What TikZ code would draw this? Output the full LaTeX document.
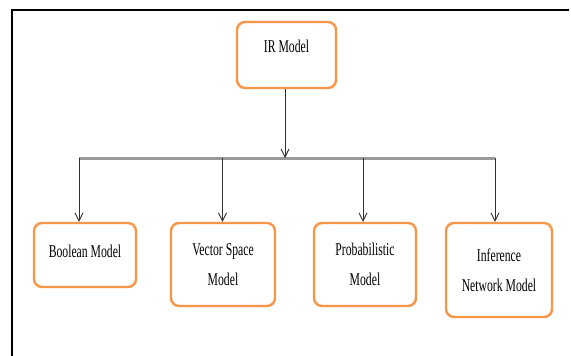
\documentclass[tikz,border=0pt]{standalone}
\usepackage{fontspec}
\setmainfont{Liberation Serif}[FakeStretch=0.65]
\usetikzlibrary{arrows.meta,shadows}
\definecolor{boxorange}{HTML}{F79646}
\definecolor{bargray}{HTML}{9A9A9A}
\definecolor{arrgray}{HTML}{303030}
\tikzset{
  modelbox/.style={draw=boxorange, line width=2.4pt, rounded corners=8pt, fill=white,
    align=center, inner sep=0pt, font=\fontsize{18}{30}\selectfont,
    drop shadow={opacity=0.12, shadow xshift=1pt, shadow yshift=-1pt}},
  arr/.style={draw=arrgray, line width=0.9pt, -{Straight Barb[length=8pt,width=8pt,line width=0.9pt]}},
  barline/.style={color=bargray, line width=3pt},
  frameline/.style={draw=black, line width=2pt}
}
\begin{document}
\begin{tikzpicture}[x=1pt,y=-1pt]
\useasboundingbox (0,0) rectangle (571,356);
\draw[frameline] (12,356) -- (12,10) -- (569,10);

\node[modelbox, minimum width=99pt, minimum height=66pt, text depth=17pt] (ir) at (286.5,55) {IR Model};
\node[modelbox, minimum width=102pt, minimum height=64pt, text depth=8pt] (bool) at (85,255) {Boolean Model};
\node[modelbox, minimum width=104pt, minimum height=83pt] (vsm) at (223,264.5) {Vector Space\\Model};
\node[modelbox, minimum width=102pt, minimum height=83pt] (prob) at (365,264.5) {Probabilistic\\Model};
\node[modelbox, minimum width=106pt, minimum height=94pt] (inf) at (499,270) {Inference\\Network Model};

\coordinate (j1) at (79,158);
\coordinate (j2) at (222.5,158);
\coordinate (j3) at (363,158);
\coordinate (j4) at (495,158);
\coordinate (j0) at (285,158);

\draw[barline, line cap=butt] (j1) -- (j4);
\draw[arr] (ir.south -| j0) -- (j0);
\draw[arr] (j1) -- (j1 |- bool.north);
\draw[arr] (j2) -- (j2 |- vsm.north);
\draw[arr] (j3) -- (j3 |- prob.north);
\draw[arr] (j4) -- (j4 |- inf.north);
\end{tikzpicture}
\end{document}
